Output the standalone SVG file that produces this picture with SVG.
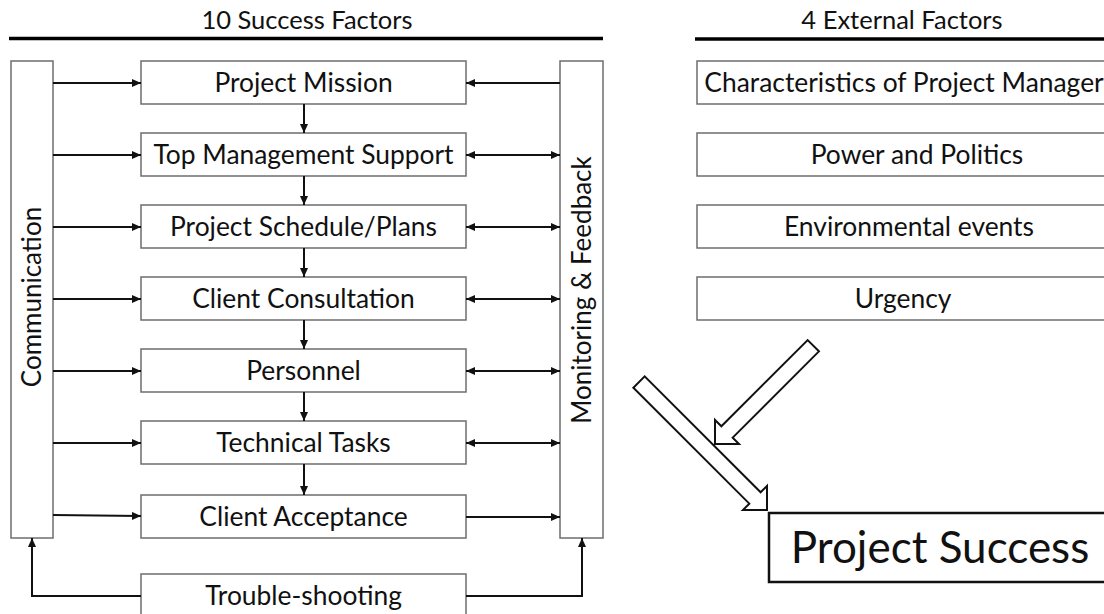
<svg xmlns="http://www.w3.org/2000/svg" width="1104" height="614" viewBox="0 0 1104 614">
  <style>
    text { font-family: Lato, "Open Sans", "Liberation Sans", sans-serif; fill: #111; }
    .title { font-size: 25.5px; text-anchor: middle; }
    .lbl { font-size: 26.4px; text-anchor: middle; }
    .side { font-size: 26px; text-anchor: middle; }
    .big { font-size: 44px; text-anchor: middle; }
    .box { fill: #fff; stroke: #6e6e6e; stroke-width: 1.5; }
    .main { fill: #fff; stroke: #111; stroke-width: 2.5; }
    .rule { stroke: #000; stroke-width: 3.5; }
    .con { fill: none; stroke: #111; stroke-width: 2; }
    .block { fill: #fff; stroke: #111; stroke-width: 2; stroke-linejoin: miter; }
  </style>
  <defs>
    <marker id="ah" markerUnits="userSpaceOnUse" markerWidth="9" markerHeight="8" refX="9" refY="4" orient="auto-start-reverse">
      <path d="M0,0 L9,4 L0,8 z" fill="#111"/>
    </marker>
  </defs>

  <rect width="1104" height="614" fill="#fff"/>

  <!-- section headings -->
  <g id="heading-success">
    <text class="title" x="307" y="29">10 Success Factors</text>
    <line class="rule" x1="9" y1="38.5" x2="603" y2="38.5"/>
  </g>
  <g id="heading-external">
    <text class="title" x="902" y="29">4 External Factors</text>
    <line class="rule" x1="695" y1="39" x2="1104" y2="39"/>
  </g>

  <!-- side columns -->
  <g id="communication">
    <rect class="box" x="11" y="61" width="42" height="477"/>
    <text class="side" transform="translate(41,297) rotate(-90)">Communication</text>
  </g>
  <g id="monitoring">
    <rect class="box" x="560" y="61" width="43" height="477"/>
    <text class="side" transform="translate(591,290) rotate(-90)">Monitoring &amp; Feedback</text>
  </g>

  <!-- success factor chain -->
  <g id="project-mission">
    <rect class="box" x="141" y="61" width="325" height="43"/>
    <text class="lbl" x="303.5" y="92">Project Mission</text>
  </g>
  <g id="top-management">
    <rect class="box" x="141" y="133" width="325" height="43"/>
    <text class="lbl" x="303.5" y="164">Top Management Support</text>
  </g>
  <g id="schedule">
    <rect class="box" x="141" y="205" width="325" height="43"/>
    <text class="lbl" x="303.5" y="236">Project Schedule/Plans</text>
  </g>
  <g id="consultation">
    <rect class="box" x="141" y="277" width="325" height="43"/>
    <text class="lbl" x="303.5" y="308">Client Consultation</text>
  </g>
  <g id="personnel">
    <rect class="box" x="141" y="349" width="325" height="43"/>
    <text class="lbl" x="303.5" y="380">Personnel</text>
  </g>
  <g id="technical">
    <rect class="box" x="141" y="421" width="325" height="43"/>
    <text class="lbl" x="303.5" y="452">Technical Tasks</text>
  </g>
  <g id="acceptance">
    <rect class="box" x="141" y="495" width="325" height="43"/>
    <text class="lbl" x="303.5" y="526">Client Acceptance</text>
  </g>
  <g id="troubleshooting">
    <rect class="box" x="141" y="574" width="325" height="46"/>
    <text class="lbl" x="303.5" y="605">Trouble-shooting</text>
  </g>

  <!-- external factors -->
  <g id="pm-characteristics">
    <rect class="box" x="697" y="61" width="420" height="43"/>
    <text class="lbl" x="904" y="92">Characteristics of Project Manager</text>
  </g>
  <g id="power">
    <rect class="box" x="697" y="133" width="420" height="43"/>
    <text class="lbl" x="917" y="164">Power and Politics</text>
  </g>
  <g id="environment">
    <rect class="box" x="697" y="205" width="420" height="43"/>
    <text class="lbl" x="909" y="236">Environmental events</text>
  </g>
  <g id="urgency">
    <rect class="box" x="697" y="277" width="420" height="43"/>
    <text class="lbl" x="903" y="308">Urgency</text>
  </g>

  <!-- outcome -->
  <g id="project-success">
    <rect class="main" x="769" y="513" width="345" height="69"/>
    <text class="big" x="940" y="563">Project Success</text>
  </g>

  <g id="connectors">
    <!-- chain downwards -->
    <line class="con" x1="304" y1="104" x2="304" y2="133" marker-end="url(#ah)"/>
    <line class="con" x1="304" y1="176" x2="304" y2="205" marker-end="url(#ah)"/>
    <line class="con" x1="304" y1="248" x2="304" y2="277" marker-end="url(#ah)"/>
    <line class="con" x1="304" y1="320" x2="304" y2="349" marker-end="url(#ah)"/>
    <line class="con" x1="304" y1="392" x2="304" y2="421" marker-end="url(#ah)"/>
    <line class="con" x1="304" y1="464" x2="304" y2="495" marker-end="url(#ah)"/>

    <!-- communication feeds every factor -->
    <line class="con" x1="53" y1="83" x2="141" y2="83" marker-end="url(#ah)"/>
    <line class="con" x1="53" y1="155" x2="141" y2="155" marker-end="url(#ah)"/>
    <line class="con" x1="53" y1="227" x2="141" y2="227" marker-end="url(#ah)"/>
    <line class="con" x1="53" y1="299" x2="141" y2="299" marker-end="url(#ah)"/>
    <line class="con" x1="53" y1="371" x2="141" y2="371" marker-end="url(#ah)"/>
    <line class="con" x1="53" y1="443" x2="141" y2="443" marker-end="url(#ah)"/>
    <line class="con" x1="53" y1="515" x2="141" y2="516" marker-end="url(#ah)"/>

    <!-- monitoring & feedback links -->
    <line class="con" x1="560" y1="83" x2="466" y2="83" marker-end="url(#ah)"/>
    <line class="con" x1="466" y1="155" x2="560" y2="155" marker-start="url(#ah)" marker-end="url(#ah)"/>
    <line class="con" x1="466" y1="227" x2="560" y2="227" marker-start="url(#ah)" marker-end="url(#ah)"/>
    <line class="con" x1="466" y1="299" x2="560" y2="299" marker-start="url(#ah)" marker-end="url(#ah)"/>
    <line class="con" x1="466" y1="371" x2="560" y2="371" marker-start="url(#ah)" marker-end="url(#ah)"/>
    <line class="con" x1="466" y1="443" x2="560" y2="443" marker-start="url(#ah)" marker-end="url(#ah)"/>
    <line class="con" x1="466" y1="517" x2="560" y2="517" marker-end="url(#ah)"/>

    <!-- trouble-shooting loops back to both columns -->
    <polyline class="con" points="141,596 32,596 32,538" marker-end="url(#ah)"/>
    <polyline class="con" points="466,596 582,596 582,538" marker-end="url(#ah)"/>

    <!-- block arrows into project success -->
    <path class="block" transform="translate(715,444) rotate(135)" d="M0,0 L-17,-17 L-17,-8 L-139,-8 L-139,8 L-17,8 L-17,17 Z"/>
    <path class="block" transform="translate(767,510) rotate(45)" d="M0,0 L-17,-17 L-17,-8 L-181,-8 L-181,8 L-17,8 L-17,17 Z"/>
  </g>
</svg>
